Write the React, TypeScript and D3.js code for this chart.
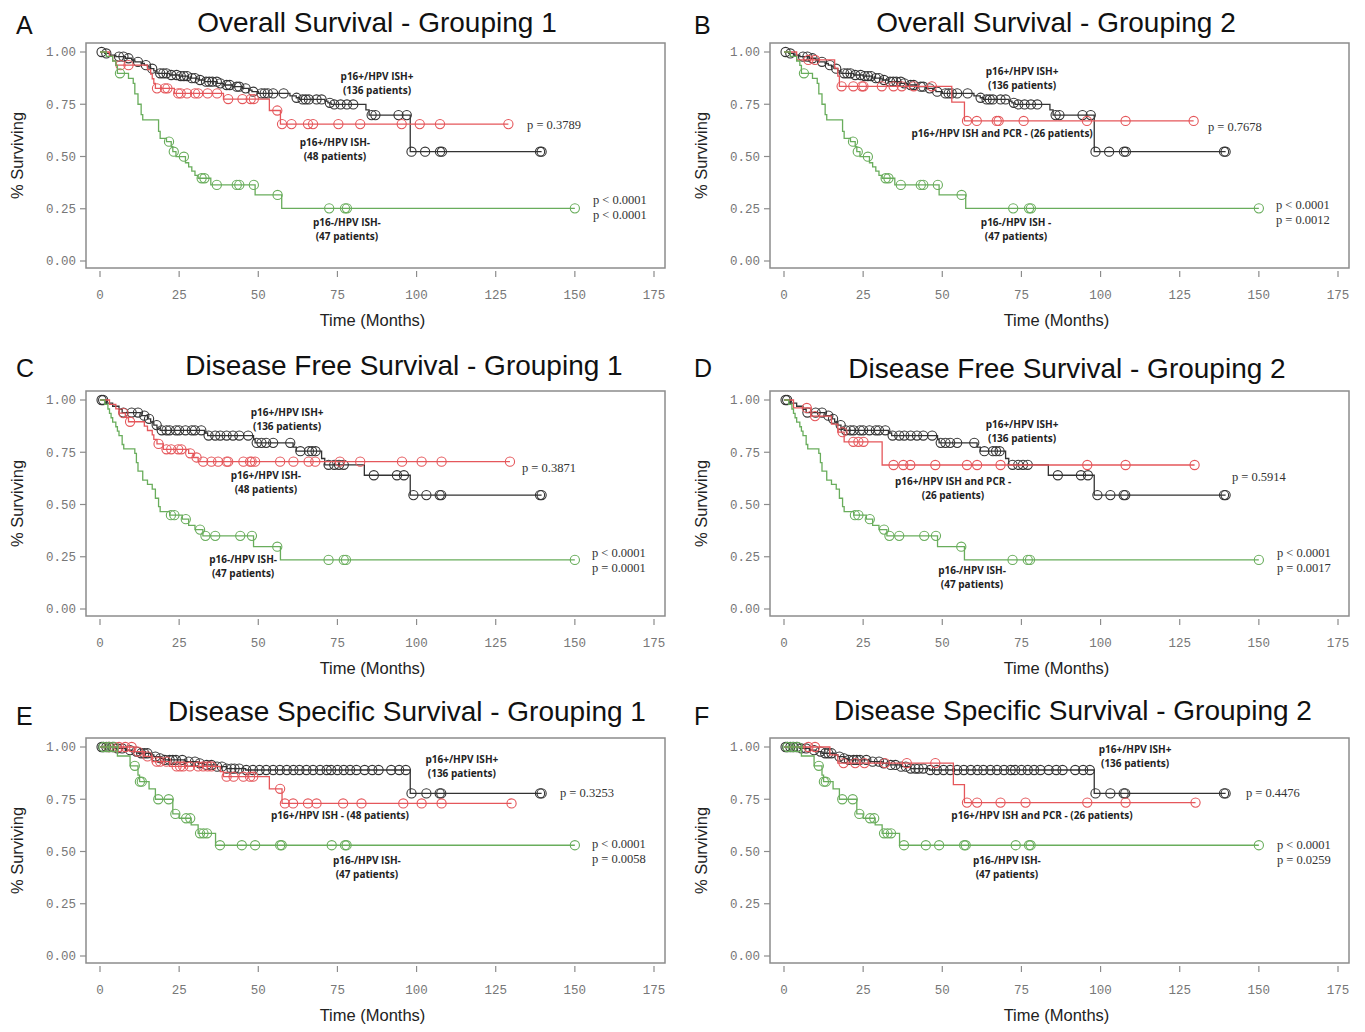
import * as d3 from "d3";

type Step = [number, number];

const xTicks = [0, 25, 50, 75, 100, 125, 150, 175];
const yTicks = [0, 0.25, 0.5, 0.75, 1];
const tickFmt = d3.format(".2f");

// overall survival
const osIshPosSteps: Step[] = [
  [1.5, 0.993], [3, 0.985], [5, 0.978], [8, 0.97], [10, 0.962], [11, 0.953], [13, 0.945],
  [14, 0.937], [15, 0.929], [16, 0.92], [17, 0.91], [18, 0.898], [22, 0.89], [25, 0.885],
  [28, 0.875], [31, 0.866], [33, 0.858], [37, 0.85], [39, 0.842], [42, 0.834], [45, 0.826],
  [47, 0.818], [48, 0.81], [50, 0.802], [60, 0.79], [62, 0.781], [63, 0.773], [71, 0.765],
  [72, 0.757], [73, 0.749], [84, 0.723], [85, 0.698], [98, 0.523],
];
const osIshPosCensor = [
  0.5, 2, 6, 7.4, 9, 12, 14.5, 16.5, 19, 20, 21, 22.5, 24.2, 25.5, 26.5, 27.5, 29, 30, 31.6,
  33.5, 34.5, 35.5, 36.9, 38, 40, 41, 43.2, 44, 46, 48.4, 51, 52, 53, 54.7, 58, 62.1, 64, 65,
  66, 68.4, 70, 72.6, 74, 76, 78, 80, 85.8, 87, 94.3, 96.9, 98.4, 102.7, 107.4, 108, 139, 139.5,
];
const osIshNegSteps: Step[] = [
  [3, 0.979], [4, 0.958], [5, 0.937], [15, 0.916], [16, 0.894], [16.5, 0.872], [17, 0.85],
  [17.5, 0.826], [23.5, 0.802], [39, 0.775], [53.5, 0.72], [57, 0.655],
];
const osIshNegCensor = [
  6.5, 9, 18, 20.5, 21.3, 24.7, 25.5, 27.5, 30, 31, 34, 37, 40.5, 45, 47.6, 48.6, 56, 57.5,
  60.5, 65.7, 67.3, 75.3, 82.2, 95.3, 101, 107.4, 129,
];
const osPcrNegSteps: Step[] = [
  [4, 0.962], [16, 0.923], [17, 0.885], [17.5, 0.836], [53, 0.76], [57, 0.67],
];
const osPcrNegCensor = [
  7.7, 9.8, 18.2, 21.9, 24.6, 25.1, 30.9, 34.6, 37.2, 41, 46.7, 57.8, 60.9, 67.2, 67.8, 75.7,
  95.7, 107.9, 129.4,
];
const osP16NegSteps: Step[] = [
  [2, 0.979], [4, 0.957], [5, 0.936], [5.5, 0.898], [9, 0.874], [10.5, 0.85], [11, 0.8],
  [12, 0.75], [13, 0.7], [13.5, 0.675], [18.5, 0.62], [19, 0.587], [21, 0.571], [22.5, 0.547],
  [23, 0.523], [24, 0.499], [27, 0.47], [28, 0.45], [29, 0.43], [30, 0.41], [31, 0.396],
  [35, 0.364], [49, 0.316], [57.4, 0.252],
];
const osP16NegCensor = [6.3, 21.8, 23.3, 26.5, 32.1, 33, 36.9, 43.2, 44, 48.6, 56.1, 72.4, 77.4, 78, 150];

// disease free survival
const dfsIshPosSteps: Step[] = [
  [2, 0.985], [4, 0.97], [6, 0.955], [7, 0.94], [13, 0.925], [15, 0.91], [16, 0.895],
  [17, 0.88], [18, 0.865], [19, 0.855], [33, 0.842], [34, 0.83], [48.5, 0.81], [49, 0.795],
  [61, 0.775], [62, 0.755], [70, 0.72], [71, 0.69], [83.5, 0.64], [98, 0.545],
];
const dfsIshPosCensor = [
  0.5, 1, 7.4, 10, 12, 14, 15.5, 17.9, 19.5, 21, 22, 24, 25, 27, 29, 30, 32, 34.3, 36.4, 38,
  40, 42, 44, 46.8, 49.5, 51, 52.5, 54.7, 60.1, 63.3, 66, 67, 68.1, 72.2, 74, 75.5, 77, 86.5,
  93.8, 96, 99, 103.1, 107.3, 107.8, 139, 139.5,
];
const dfsIshNegSteps: Step[] = [
  [3, 0.979], [5, 0.958], [6, 0.937], [8, 0.917], [9, 0.896], [14, 0.875], [15, 0.854],
  [16.5, 0.833], [17, 0.812], [18, 0.79], [20, 0.764], [28, 0.745], [29.5, 0.725], [31, 0.705],
];
const dfsIshNegCensor = [
  7.4, 9.5, 18.5, 21, 22.5, 24.7, 25.7, 28.5, 30.5, 32.6, 35.2, 37.3, 40, 40.5, 45.3, 47.4,
  47.9, 49, 56.9, 61.1, 65.9, 68, 75.8, 82.2, 95.4, 101.6, 107.9, 129.5,
];
const dfsPcrNegSteps: Step[] = [
  [3, 0.962], [8.5, 0.923], [15, 0.885], [17, 0.846], [19, 0.8], [31, 0.689],
];
const dfsPcrNegCensor = [
  7.2, 9.8, 18.5, 21.9, 23.5, 25.1, 34.6, 37.7, 39.9, 47.8, 57.8, 61, 68.4, 95.8, 107.9, 129.7,
];
const dfsP16NegSteps: Step[] = [
  [1.5, 0.979], [2.5, 0.957], [3, 0.936], [3.5, 0.915], [4, 0.894], [5, 0.872], [5.5, 0.851],
  [6, 0.83], [7, 0.787], [7.5, 0.766], [11, 0.745], [11.5, 0.7], [12, 0.66], [13.5, 0.617],
  [15, 0.596], [16.5, 0.574], [17.5, 0.53], [18.5, 0.49], [19, 0.466], [22, 0.449], [26, 0.43],
  [28, 0.4], [30, 0.38], [32.5, 0.35], [48.5, 0.298], [57, 0.235],
];
const dfsP16NegCensor = [22.4, 23.5, 27.1, 31.6, 33.3, 36.4, 44.3, 48, 56, 72.2, 77, 77.7, 150];

// disease specific survival
const dssIshPosSteps: Step[] = [
  [5, 0.993], [8, 0.985], [10, 0.978], [12, 0.97], [16, 0.962], [17, 0.954], [19, 0.946],
  [20, 0.938], [27, 0.93], [31, 0.922], [33, 0.914], [37, 0.906], [40, 0.897], [46, 0.89],
  [98, 0.778],
];
const dssIshPosCensor = [
  0.5, 1, 2, 3, 4, 5.5, 7, 9.5, 11.5, 13, 14, 15, 17.5, 19, 20.5, 22, 23, 24, 26, 28, 30, 31.5,
  33.7, 35.2, 37, 38.5, 40, 41.5, 42.5, 44, 46.2, 48.3, 50.4, 52.5, 54.7, 56.8, 59, 61.1, 63,
  65.2, 67.3, 69.5, 71.6, 73, 75, 77, 79, 81, 83.6, 86, 88, 92, 94.5, 96.6, 98.4, 103.1, 107.3,
  107.8, 139, 139.5,
];
const dssIshNegSteps: Step[] = [
  [11, 0.978], [14, 0.955], [16.5, 0.93], [22, 0.907], [38, 0.882], [39, 0.858], [53.5, 0.8],
  [57.5, 0.73],
];
const dssIshNegCensor = [
  2.7, 4.5, 6, 8, 10, 12, 15, 17.9, 19, 21, 24.2, 25.3, 26.3, 28.4, 31, 32.6, 34, 35.2, 40,
  42.2, 45.3, 47.4, 48.4, 56.9, 58.4, 61, 65.7, 68.4, 76.8, 82.6, 95.8, 101.6, 107.9, 130,
];
const dssPcrNegSteps: Step[] = [[14.5, 0.962], [17, 0.923], [53.5, 0.82], [57, 0.734]];
const dssPcrNegCensor = [
  7.7, 9.8, 18.8, 22.5, 25.4, 31.9, 38.8, 47.8, 57.8, 61, 68.4, 76.3, 95.8, 107.9, 130,
];
const dssP16NegSteps: Step[] = [
  [5.5, 0.957], [9.5, 0.91], [12, 0.865], [12.5, 0.834], [15.5, 0.8], [17.5, 0.75], [23, 0.68],
  [25, 0.659], [28.8, 0.627], [31, 0.587], [36.5, 0.53],
];
const dssP16NegCensor = [
  1.1, 2.7, 4.3, 11, 12.6, 13.2, 18.4, 21.7, 23.8, 27.2, 28.5, 31.6, 32.7, 33.8, 37.9, 44.8, 49,
  56.9, 57.4, 73.2, 77.4, 77.9, 150,
];

const titles = [
  "Overall Survival - Grouping 1",
  "Overall Survival - Grouping 2",
  "Disease Free Survival - Grouping 1",
  "Disease Free Survival - Grouping 2",
  "Disease Specific Survival - Grouping 1",
  "Disease Specific Survival - Grouping 2",
];
const letters = ["A", "B", "C", "D", "E", "F"];
const pRed = ["p = 0.3789", "p = 0.7678", "p = 0.3871", "p = 0.5914", "p = 0.3253", "p = 0.4476"];
const pGreen = [
  ["p < 0.0001", "p < 0.0001"],
  ["p < 0.0001", "p = 0.0012"],
  ["p < 0.0001", "p = 0.0001"],
  ["p < 0.0001", "p = 0.0017"],
  ["p < 0.0001", "p = 0.0058"],
  ["p < 0.0001", "p = 0.0259"],
];

const BLACK = "#333333";
const RED = "#e5575b";
const GREEN = "#69ad5c";

type Series = { steps: Step[]; censor: number[]; color: string };
type Label = { lines: string[]; at: [number, number] };

type PanelCfg = {
  col: number;
  row: number;
  titleX: number;
  titleY: number;
  series: Series[];
  labels: Label[];
  pRedAt: [number, number];
  pGreenAt: [number, number];
};

const s = (steps: Step[], censor: number[], color: string): Series => ({ steps, censor, color });

const panels: PanelCfg[] = [
  {
    col: 0, row: 0, titleX: 377, titleY: 32,
    series: [s(osIshPosSteps, osIshPosCensor, BLACK), s(osIshNegSteps, osIshNegCensor, RED), s(osP16NegSteps, osP16NegCensor, GREEN)],
    labels: [
      { lines: ["p16+/HPV ISH+", "(136 patients)"], at: [87.5, 0.885] },
      { lines: ["p16+/HPV ISH-", "(48 patients)"], at: [74.2, 0.565] },
      { lines: ["p16-/HPV ISH-", "(47 patients)"], at: [78, 0.182] },
    ],
    pRedAt: [134.9, 0.651], pGreenAt: [155.7, 0.292],
  },
  {
    col: 1, row: 0, titleX: 1056, titleY: 32,
    series: [s(osIshPosSteps, osIshPosCensor, BLACK), s(osPcrNegSteps, osPcrNegCensor, RED), s(osP16NegSteps, osP16NegCensor, GREEN)],
    labels: [
      { lines: ["p16+/HPV ISH+", "(136 patients)"], at: [75.2, 0.909] },
      { lines: ["p16+/HPV ISH and PCR - (26 patients)"], at: [68.9, 0.612] },
      { lines: ["p16-/HPV ISH -", "(47 patients)"], at: [73.3, 0.182] },
    ],
    pRedAt: [133.9, 0.641], pGreenAt: [155.4, 0.268],
  },
  {
    col: 0, row: 1, titleX: 404, titleY: 375,
    series: [s(dfsIshPosSteps, dfsIshPosCensor, BLACK), s(dfsIshNegSteps, dfsIshNegCensor, RED), s(dfsP16NegSteps, dfsP16NegCensor, GREEN)],
    labels: [
      { lines: ["p16+/HPV ISH+", "(136 patients)"], at: [59.1, 0.938] },
      { lines: ["p16+/HPV ISH-", "(48 patients)"], at: [52.4, 0.641] },
      { lines: ["p16-/HPV ISH-", "(47 patients)"], at: [45.2, 0.239] },
    ],
    pRedAt: [133.3, 0.675], pGreenAt: [155.4, 0.268],
  },
  {
    col: 1, row: 1, titleX: 1067, titleY: 378,
    series: [s(dfsIshPosSteps, dfsIshPosCensor, BLACK), s(dfsPcrNegSteps, dfsPcrNegCensor, RED), s(dfsP16NegSteps, dfsP16NegCensor, GREEN)],
    labels: [
      { lines: ["p16+/HPV ISH+", "(136 patients)"], at: [75.2, 0.885] },
      { lines: ["p16+/HPV ISH and PCR -", "(26 patients)"], at: [53.4, 0.612] },
      { lines: ["p16-/HPV ISH-", "(47 patients)"], at: [59.4, 0.182] },
    ],
    pRedAt: [141.5, 0.632], pGreenAt: [155.7, 0.268],
  },
  {
    col: 0, row: 2, titleX: 407, titleY: 721,
    series: [s(dssIshPosSteps, dssIshPosCensor, BLACK), s(dssIshNegSteps, dssIshNegCensor, RED), s(dssP16NegSteps, dssP16NegCensor, GREEN)],
    labels: [
      { lines: ["p16+/HPV ISH+", "(136 patients)"], at: [114.3, 0.938] },
      { lines: ["p16+/HPV ISH - (48 patients)"], at: [75.8, 0.67] },
      { lines: ["p16-/HPV ISH-", "(47 patients)"], at: [84.3, 0.455] },
    ],
    pRedAt: [145.3, 0.78], pGreenAt: [155.4, 0.536],
  },
  {
    col: 1, row: 2, titleX: 1073, titleY: 720,
    series: [s(dssIshPosSteps, dssIshPosCensor, BLACK), s(dssPcrNegSteps, dssPcrNegCensor, RED), s(dssP16NegSteps, dssP16NegCensor, GREEN)],
    labels: [
      { lines: ["p16+/HPV ISH+", "(136 patients)"], at: [110.9, 0.99] },
      { lines: ["p16+/HPV ISH and PCR - (26 patients)"], at: [81.5, 0.67] },
      { lines: ["p16-/HPV ISH-", "(47 patients)"], at: [70.4, 0.455] },
    ],
    pRedAt: [145.9, 0.78], pGreenAt: [155.7, 0.531],
  },
];

// layout
const colX0 = [100, 784];
const letterX = [16, 694];
const rowY1 = [52, 400, 747];
const letterY = [34, 377, 725];
const plotW = 554;
const plotH = 209;

const survivalAt = (steps: Step[], t: number) => {
  let v = 1;
  for (const [st, sv] of steps) if (st <= t) v = sv;
  return v;
};

const Panel = ({ cfg, i }: { cfg: PanelCfg; i: number }) => {
  const x0 = colX0[cfg.col];
  const y1 = rowY1[cfg.row];
  const x = d3.scaleLinear().domain([0, 175]).range([x0, x0 + plotW]);
  const y = d3.scaleLinear().domain([0, 1]).range([y1 + plotH, y1]);
  const frameL = x0 - 14;
  const frameR = x0 + 565;
  const frameT = y1 - 9;
  const frameB = y1 + plotH + 7;
  const midX = (frameL + frameR) / 2;

  const line = d3
    .line<Step>()
    .x((d) => x(d[0]))
    .y((d) => y(d[1]))
    .curve(d3.curveStepAfter);

  return (
    <g>
      <text x={letterX[cfg.col]} y={letterY[cfg.row]} fontSize={25} fontFamily="Liberation Sans, Arial, sans-serif" fill="#111">
        {letters[i]}
      </text>
      <text x={cfg.titleX} y={cfg.titleY} fontSize={28} textAnchor="middle" fontFamily="Liberation Sans, Arial, sans-serif" fill="#111">
        {titles[i]}
      </text>
      <rect x={frameL} y={frameT} width={frameR - frameL} height={frameB - frameT} fill="none" stroke="#8c8c8c" strokeWidth={1.5} />
      {yTicks.map((t) => (
        <g key={t}>
          <line x1={frameL - 6} x2={frameL} y1={y(t)} y2={y(t)} stroke="#8c8c8c" strokeWidth={1.2} />
          <text x={frameL - 10} y={y(t)} dy="0.35em" textAnchor="end" fontSize={12.5} fontFamily="Liberation Mono, DejaVu Sans Mono, monospace" fill="#777">
            {tickFmt(t)}
          </text>
        </g>
      ))}
      {xTicks.map((t) => (
        <g key={t}>
          <line x1={x(t)} x2={x(t)} y1={frameB + 3} y2={frameB + 9} stroke="#8c8c8c" strokeWidth={1.2} />
          <text x={x(t)} y={frameB + 27} dy="0.35em" textAnchor="middle" fontSize={12.5} fontFamily="Liberation Mono, DejaVu Sans Mono, monospace" fill="#777">
            {t}
          </text>
        </g>
      ))}
      <text x={midX - 3} y={frameB + 58} textAnchor="middle" fontSize={16.5} fontFamily="Liberation Sans, Arial, sans-serif" fill="#222">
        Time (Months)
      </text>
      <text
        transform={`translate(${frameL - 63},${(frameT + frameB) / 2}) rotate(-90)`}
        textAnchor="middle"
        fontSize={16.5}
        fontFamily="Liberation Sans, Arial, sans-serif"
        fill="#222"
      >
        % Surviving
      </text>
      {cfg.series.map((ser, k) => {
        const end = d3.max(ser.censor) ?? 0;
        const pts: Step[] = [[0, 1], ...ser.steps, [end, ser.steps[ser.steps.length - 1][1]]];
        return (
          <g key={k}>
            <path d={line(pts) ?? ""} fill="none" stroke={ser.color} strokeWidth={1.3} />
            {ser.censor.map((c, j) => (
              <circle key={j} cx={x(c)} cy={y(survivalAt(ser.steps, c))} r={4.6} fill="none" stroke={ser.color} strokeWidth={1.1} />
            ))}
          </g>
        );
      })}
      {cfg.labels.map((lab, k) => (
        <text key={k} x={x(lab.at[0])} y={y(lab.at[1])} textAnchor="middle" fontSize={10} fontWeight="bold" fontFamily="Open Sans, Liberation Sans, sans-serif" fill="#222">
          {lab.lines.map((ln, j) => (
            <tspan key={j} x={x(lab.at[0])} dy={j === 0 ? "0.35em" : 14}>
              {ln}
            </tspan>
          ))}
        </text>
      ))}
      <text x={x(cfg.pRedAt[0])} y={y(cfg.pRedAt[1])} dy="0.35em" fontSize={12.5} fontFamily="Liberation Serif, Times New Roman, serif" fill="#333">
        {pRed[i]}
      </text>
      <text x={x(cfg.pGreenAt[0])} y={y(cfg.pGreenAt[1])} fontSize={12.5} fontFamily="Liberation Serif, Times New Roman, serif" fill="#333">
        <tspan x={x(cfg.pGreenAt[0])} dy="0.35em">{pGreen[i][0]}</tspan>
        <tspan x={x(cfg.pGreenAt[0])} dy={15}>{pGreen[i][1]}</tspan>
      </text>
    </g>
  );
};

export default function App() {
  return (
    <svg width={1365} height={1032} style={{ position: "absolute", left: 0, top: 0, display: "block", background: "#fff" }}>
      {panels.map((p, i) => (
        <Panel key={i} cfg={p} i={i} />
      ))}
    </svg>
  );
}
